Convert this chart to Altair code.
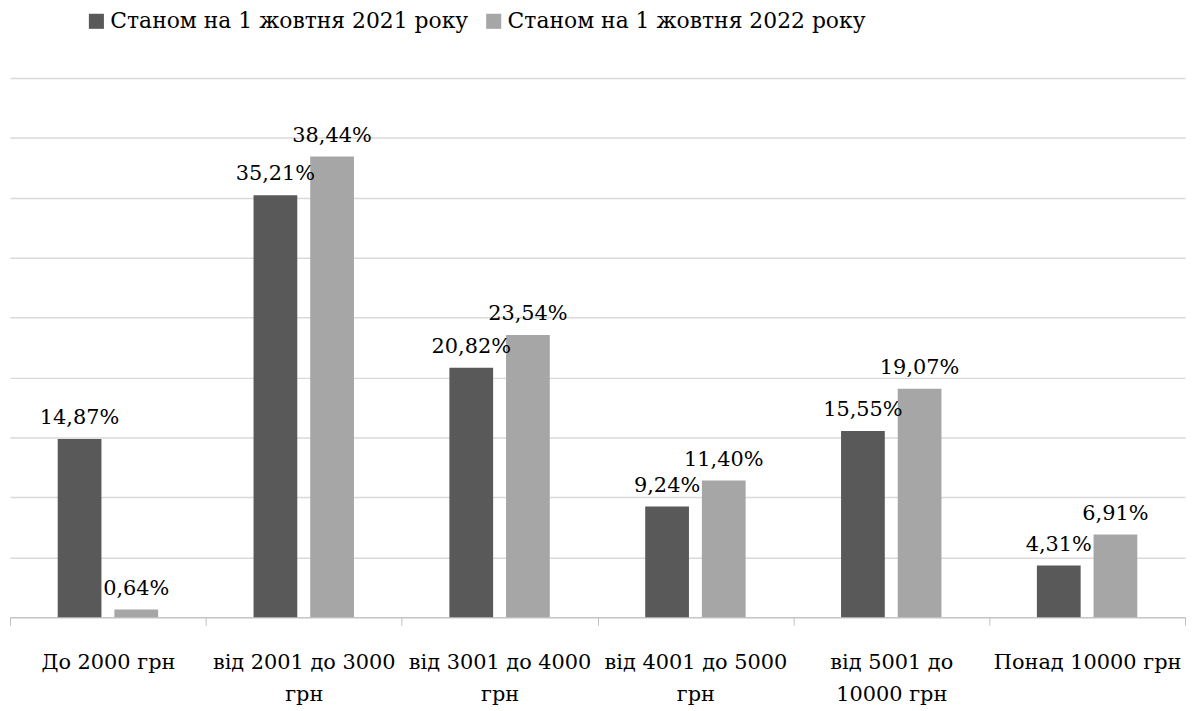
import altair as alt
import pandas as pd

categories = ["До 2000 грн", "від 2001 до 3000 грн", "від 3001 до 4000 грн",
              "від 4001 до 5000 грн", "від 5001 до 10000 грн", "Понад 10000 грн"]
label_lines = [["До 2000 грн"], ["від 2001 до 3000", "грн"], ["від 3001 до 4000", "грн"],
               ["від 4001 до 5000", "грн"], ["від 5001 до", "10000 грн"], ["Понад 10000 грн"]]
series = ["Станом на 1 жовтня 2021 року", "Станом на 1 жовтня 2022 року"]
values_2021 = [14.87, 35.21, 20.82, 9.24, 15.55, 4.31]
values_2022 = [0.64, 38.44, 23.54, 11.40, 19.07, 6.91]
colors = ["#595959", "#a6a6a6"]

rows = []
for i, c in enumerate(categories):
    for s, vals in zip(series, [values_2021, values_2022]):
        v = vals[i]
        rows.append({"cat": c, "series": s, "value": v,
                     "label": f"{v:.2f}".replace(".", ",") + "%"})
df = pd.DataFrame(rows)

parts = []
for c, lines in zip(categories, label_lines):
    arr = "[" + ",".join("'" + l + "'" for l in lines) + "]"
    parts.append(f"datum.label == '{c}' ? {arr}")
label_expr = " : ".join(parts) + " : datum.label"

FONT = "DejaVu Serif"

x = alt.X("cat:N", sort=categories, title=None,
          scale=alt.Scale(paddingInner=0, paddingOuter=0),
          axis=alt.Axis(labelAngle=0, labelExpr=label_expr, labelFont=FONT,
                        labelFontSize=21, labelColor="#000000", labelPadding=27,
                        labelLineHeight=32, tickBand="extent", tickSize=8, labelLimit=0,
                        tickColor="#bfbfbf", domainColor="#bfbfbf", labelBaseline="top"))
xo = alt.XOffset("series:N", sort=series,
                 scale=alt.Scale(paddingInner=0.228, paddingOuter=0.842))
y = alt.Y("value:Q", title=None,
          scale=alt.Scale(domain=[0, 45]),
          axis=alt.Axis(values=list(range(0, 50, 5)), labels=False, ticks=False,
                        domain=False, grid=True, gridColor="#d9d9d9", gridWidth=1.5))

bars = alt.Chart(df).mark_bar().encode(
    x=x, xOffset=xo, y=y,
    color=alt.Color("series:N", sort=series,
                    scale=alt.Scale(domain=series, range=colors),
                    legend=alt.Legend(title=None, orient="none", direction="horizontal",
                                      legendX=76, legendY=-68, symbolType="square",
                                      symbolSize=230, symbolStrokeWidth=0,
                                      labelFont=FONT, labelFontSize=22, labelLimit=0,
                                      labelColor="#000000", columnPadding=14,
                                      symbolOpacity=1, labelOffset=3)),
)
text = alt.Chart(df).mark_text(font=FONT, fontSize=21, color="#000000",
                               baseline="alphabetic", dy=-15).encode(
    x=alt.X("cat:N", sort=categories), xOffset=alt.XOffset("series:N", sort=series),
    y="value:Q", text="label:N")

chart = (bars + text).properties(
    width=1183, height=543,
    autosize=alt.AutoSizeParams(type="none"),
    padding={"left": 2, "top": 68, "right": 3, "bottom": 92},
).configure_view(stroke=None)

chart.save("out.html", embed_options={"renderer": "svg", "actions": False})
